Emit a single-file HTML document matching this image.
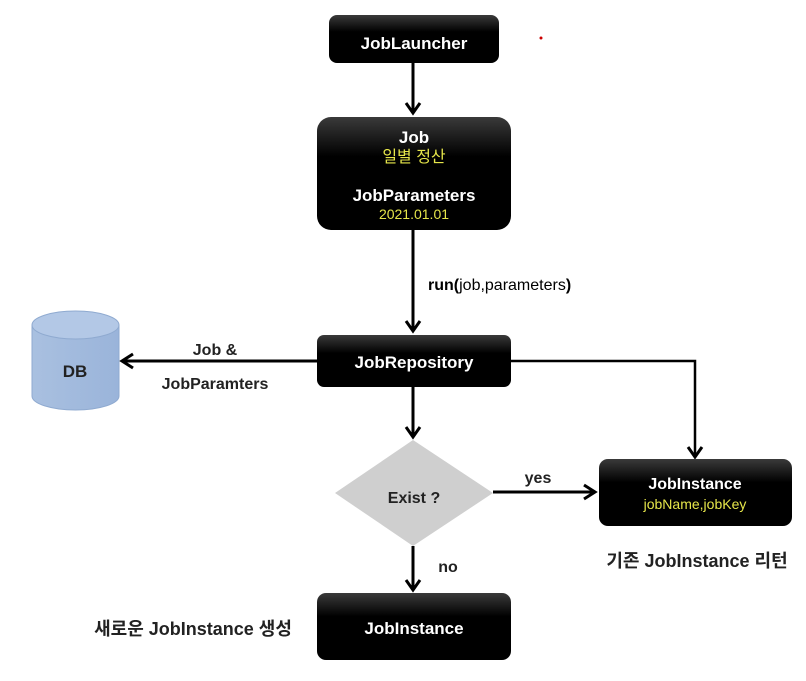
<!DOCTYPE html>
<html><head><meta charset="utf-8"><style>
body{margin:0;background:#fff;width:806px;height:676px;overflow:hidden}
text{font-family:"Liberation Sans","Noto Sans CJK KR",sans-serif;font-weight:bold}
</style></head><body>
<svg width="806" height="676" viewBox="0 0 806 676" xmlns="http://www.w3.org/2000/svg">
<defs>
<linearGradient id="g" x1="0" y1="0" x2="0" y2="1"><stop offset="0" stop-color="#3a3a3a"/><stop offset="0.35" stop-color="#000"/><stop offset="1" stop-color="#000"/></linearGradient>
<linearGradient id="db" x1="0" y1="0" x2="1" y2="0"><stop offset="0" stop-color="#a9c0e0"/><stop offset="1" stop-color="#9ab4da"/></linearGradient>
</defs>
<circle cx="541" cy="38" r="1.5" fill="#c00"/>
<g stroke="#000" stroke-width="3" fill="none">
<line x1="413" y1="63" x2="413" y2="112"/>
<polyline points="406,103 413,113 420,103"/>
<line x1="413" y1="230" x2="413" y2="331"/>
<polyline points="406,321 413,331 420,321"/>
<line x1="317" y1="361" x2="123" y2="361"/>
<polyline points="133,354 122,361 133,368"/>
<line x1="413" y1="387" x2="413" y2="436"/>
<polyline points="406,427 413,437 420,427"/>
<line x1="493" y1="492" x2="594" y2="492"/>
<polyline points="584,485 595,492 584,499"/>
<line x1="413" y1="546" x2="413" y2="589"/>
<polyline points="406,580 413,590 420,580"/>
</g>
<polyline points="511,361 695,361 695,455" stroke="#000" stroke-width="2.5" fill="none"/>
<polyline points="688,447 695,457 702,447" stroke="#000" stroke-width="3" fill="none"/>
<rect x="329" y="15" width="170" height="48" rx="8" fill="url(#g)"/>
<text x="414" y="49" fill="#fff" font-size="17" text-anchor="middle">JobLauncher</text>
<rect x="317" y="117" width="194" height="113" rx="14" fill="url(#g)"/>
<text x="414" y="143" fill="#fff" font-size="17" text-anchor="middle">Job</text>
<text x="414" y="162" fill="#e6e64a" font-size="16" text-anchor="middle" style="font-weight:normal">일별 정산</text>
<text x="414" y="201" fill="#fff" font-size="17" text-anchor="middle">JobParameters</text>
<text x="414" y="219" fill="#e6e64a" font-size="14" text-anchor="middle" style="font-weight:normal">2021.01.01</text>
<text x="428" y="290" fill="#000" font-size="16" style="font-weight:normal"><tspan style="font-weight:bold">run(</tspan>job,parameters<tspan style="font-weight:bold">)</tspan></text>
<rect x="317" y="335" width="194" height="52" rx="7" fill="url(#g)"/>
<text x="414" y="368" fill="#fff" font-size="17" text-anchor="middle">JobRepository</text>
<path d="M32,325 L32,396 A43.5,14 0 0 0 119,396 L119,325 Z" fill="url(#db)" stroke="#8faad0"/>
<ellipse cx="75.5" cy="325" rx="43.5" ry="14" fill="#b3c8e6" stroke="#8faad0"/>
<text x="75" y="377" fill="#222" font-size="17" text-anchor="middle">DB</text>
<text x="215" y="355" fill="#222" font-size="16" text-anchor="middle">Job &amp;</text>
<text x="215" y="389" fill="#222" font-size="16" text-anchor="middle">JobParamters</text>
<polygon points="413,440 493,493 413,546 335,493" fill="#cfcfcf"/>
<text x="414" y="503" fill="#222" font-size="16" text-anchor="middle">Exist ?</text>
<text x="538" y="483" fill="#222" font-size="16" text-anchor="middle">yes</text>
<text x="448" y="572" fill="#222" font-size="16" text-anchor="middle">no</text>
<rect x="599" y="459" width="193" height="67" rx="9" fill="url(#g)"/>
<text x="695" y="489" fill="#fff" font-size="16" text-anchor="middle">JobInstance</text>
<text x="695" y="509" fill="#e6e64a" font-size="14" text-anchor="middle" style="font-weight:normal">jobName,jobKey</text>
<text x="697" y="567" fill="#222" font-size="18" text-anchor="middle">기존 JobInstance 리턴</text>
<rect x="317" y="593" width="194" height="67" rx="9" fill="url(#g)"/>
<text x="414" y="634" fill="#fff" font-size="17" text-anchor="middle">JobInstance</text>
<text x="193" y="635" fill="#222" font-size="18" text-anchor="middle">새로운 JobInstance 생성</text>
</svg>
</body></html>
